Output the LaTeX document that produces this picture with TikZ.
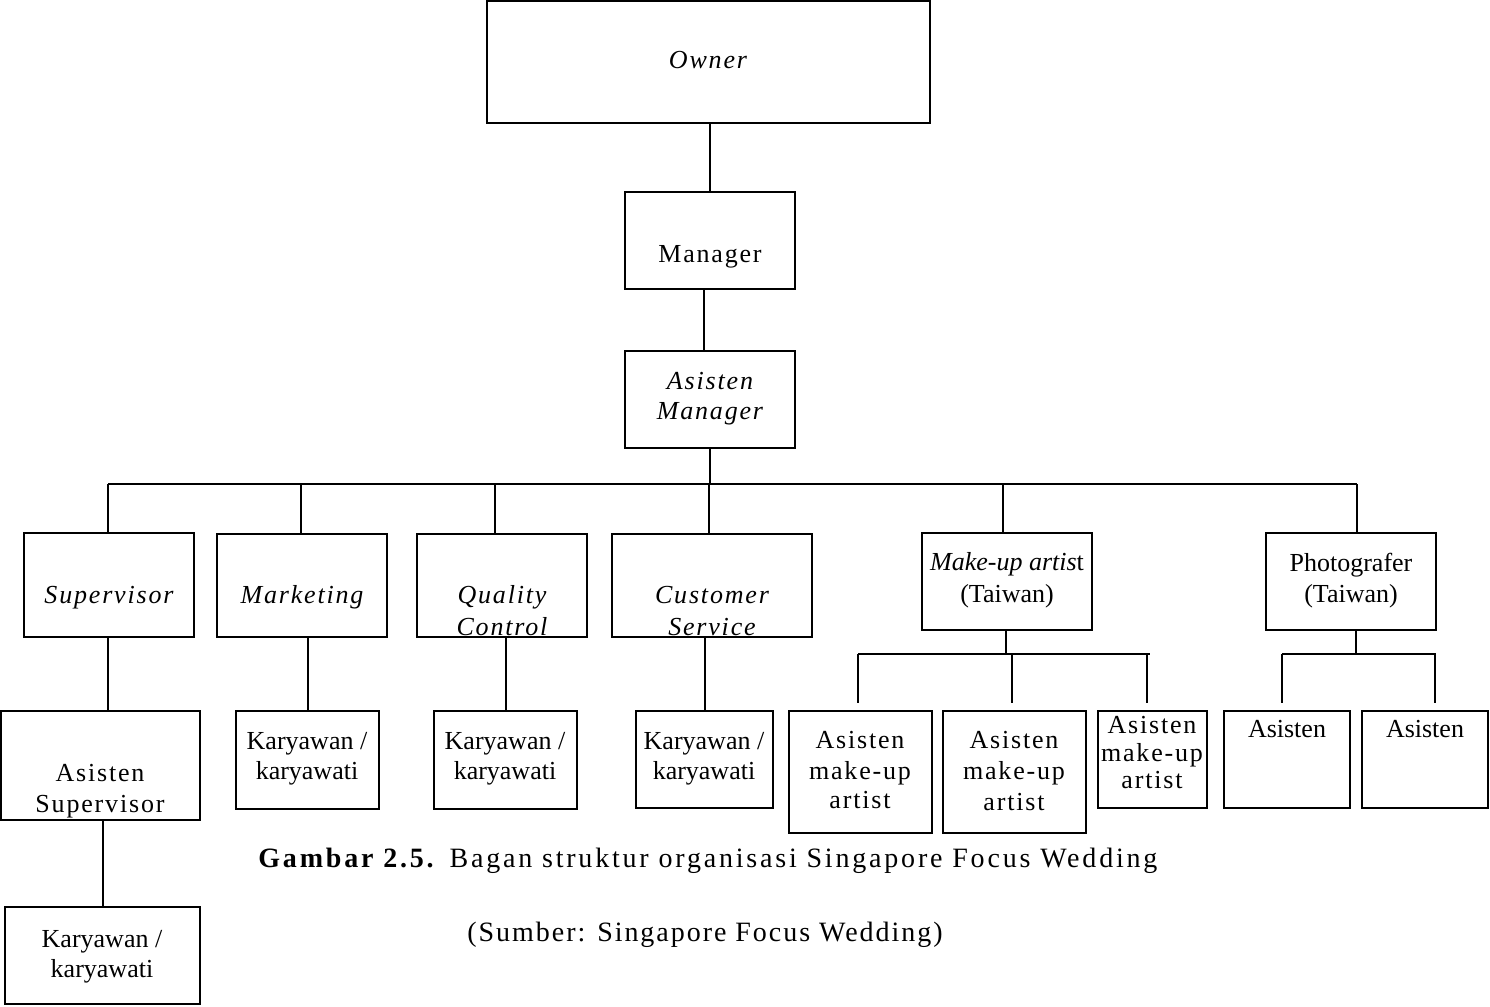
\documentclass[tikz,border=0pt]{standalone}
\usepackage{fontspec}
\setmainfont{Liberation Serif}
\newfontfamily\spc[LetterSpace=7]{Liberation Serif}
\newfontfamily\capa[LetterSpace=10]{Liberation Serif}
\newfontfamily\capb[LetterSpace=7]{Liberation Serif}
\newcommand\bx[5]{\node[boxst, minimum width={(#4-#2)*0.5pt}, minimum height={(#5-#3)*0.5pt}] (#1) at ({(#2+#4)/2},{(#3+#5)/2}) {};}
\begin{document}
\begin{tikzpicture}[x=0.5pt,y=-0.5pt,
  boxst/.style={draw, line width=1pt, inner sep=0pt, outer sep=0pt},
  ln/.style={line width=1pt},
  tx/.style={inner sep=0pt, anchor=base, font=\fontsize{13}{15}\selectfont},
  sp/.style={tx, font=\fontsize{13}{15}\spc},
  spi/.style={tx, font=\fontsize{13}{15}\spc\itshape}]
\useasboundingbox (0,0) rectangle (1490,1007);
% boxes
\bx{owner}{487}{1}{930}{123}
\bx{mgr}{625}{192}{795}{289}
\bx{am}{625}{351}{795}{448}
\bx{sup}{24}{533}{194}{637}
\bx{mkt}{217}{534}{387}{637}
\bx{qc}{417}{534}{587}{637}
\bx{cs}{612}{534}{812}{637}
\bx{mua}{922}{533}{1092}{630}
\bx{pho}{1266}{533}{1436}{630}
\bx{asup}{1}{711}{200}{820}
\bx{ka}{5}{907}{200}{1004}
\bx{kb}{236}{711}{379}{809}
\bx{kc}{434}{711}{577}{809}
\bx{kd}{636}{711}{773}{808}
\bx{ma}{789}{711}{932}{833}
\bx{mb}{943}{711}{1086}{833}
\bx{mc}{1098}{711}{1207}{808}
\bx{pa}{1224}{711}{1350}{808}
\bx{pb}{1362}{711}{1488}{808}
% texts
\node[spi] (t-owner) at (708,68) {Owner};
\node[sp] (t-mgr) at (710,262) {Manager};
\node[spi] (t-am1) at (710,389) {Asisten};
\node[spi] (t-am2) at (710,419) {Manager};
\node[spi] (t-sup) at (109,603) {Supervisor};
\node[spi] (t-mkt) at (302,603) {Marketing};
\node[spi] (t-qc1) at (502,603) {Quality};
\node[spi] (t-qc2) at (502,635) {Control};
\node[spi] (t-cs1) at (712,603) {Customer};
\node[spi] (t-cs2) at (712,635) {Service};
\node[tx] (t-mua1) at (1007,570) {\textit{Make-up artis}t};
\node[tx] (t-mua2) at (1007,602) {(Taiwan)};
\node[tx] (t-pho1) at (1351,571) {Photografer};
\node[tx] (t-pho2) at (1351,602) {(Taiwan)};
\node[sp] (t-asup1) at (100,781) {Asisten};
\node[sp] (t-asup2) at (100,812) {Supervisor};
\node[tx] (t-ka1) at (102,947) {Karyawan /};
\node[tx] (t-ka2) at (102,977) {karyawati};
\node[tx] (t-kb1) at (307,749) {Karyawan /};
\node[tx] (t-kb2) at (307,779) {karyawati};
\node[tx] (t-kc1) at (505,749) {Karyawan /};
\node[tx] (t-kc2) at (505,779) {karyawati};
\node[tx] (t-kd1) at (704,749) {Karyawan /};
\node[tx] (t-kd2) at (704,779) {karyawati};
\node[sp] (t-ma1) at (860,748) {Asisten};
\node[sp] (t-ma2) at (860,779) {make-up};
\node[sp] (t-ma3) at (860,808) {artist};
\node[sp] (t-mb1) at (1014,748) {Asisten};
\node[sp] (t-mb2) at (1014,779) {make-up};
\node[sp] (t-mb3) at (1014,810) {artist};
\node[sp] (t-mc1) at (1152,733) {Asisten};
\node[sp] (t-mc2) at (1152,761) {make-up};
\node[sp] (t-mc3) at (1152,788) {artist};
\node[tx] (t-pa) at (1287,737) {Asisten};
\node[tx] (t-pb) at (1425,737) {Asisten};
\node[tx, anchor=base west, font=\fontsize{14}{16}\capa] (cap1) at (258,867) {\textbf{Gambar 2.5.} Bagan struktur organisasi Singapore Focus Wedding};
\node[tx, anchor=base west, font=\fontsize{14}{16}\capb] (cap2) at (467,941) {(Sumber: Singapore Focus Wedding)};
% connectors
\coordinate (bus) at (710,484);
\coordinate (busm) at (1006,654);
\coordinate (busp) at (1356,654);
\draw[ln] (mgr.north) -- (mgr.north |- owner.south);
\draw[ln] ([xshift=-3pt]mgr.south) -- ([xshift=-3pt]am.north);
\draw[ln] (am.south) -- (bus);
\draw[ln] ([xshift=-0.5pt]sup.north |- bus) -- ([xshift=3pt]pho.north |- bus);
\draw[ln] ([xshift=-0.5pt]sup.north) -- ([xshift=-0.5pt]sup.north |- bus);
\draw[ln] ([xshift=-0.5pt]mkt.north) -- ([xshift=-0.5pt]mkt.north |- bus);
\draw[ln] ([xshift=-3.5pt]qc.north) -- ([xshift=-3.5pt]qc.north |- bus);
\draw[ln] ([xshift=-1.5pt]cs.north) -- ([xshift=-1.5pt]cs.north |- bus);
\draw[ln] ([xshift=-2pt]mua.north) -- ([xshift=-2pt]mua.north |- bus);
\draw[ln] ([xshift=3pt]pho.north) -- ([xshift=3pt]pho.north |- bus);
\draw[ln] ([xshift=-0.5pt]sup.south) -- ([xshift=-0.5pt]sup.south |- asup.north);
\draw[ln] (ka.north) -- (ka.north |- asup.south);
\draw[ln] (kb.north) -- (kb.north |- mkt.south);
\draw[ln] (kc.north) -- (kc.north |- qc.south);
\draw[ln] (kd.north) -- (kd.north |- cs.south);
% make-up artist sub-tree
\draw[ln] (mua.south -| busm) -- (busm);
\draw[ln] ([xshift=-1.25pt]ma.north |- busm) -- ([xshift=-1.25pt]mc.north |- busm);
\draw[ln] ([xshift=-1.25pt]ma.north |- busm) -- ([xshift=-1.25pt,yshift=4pt]ma.north);
\draw[ln] ([xshift=-1.25pt]mb.north |- busm) -- ([xshift=-1.25pt,yshift=4pt]mb.north);
\draw[ln] ([xshift=-2.75pt]mc.north |- busm) -- ([xshift=-2.75pt,yshift=4pt]mc.north);
% photografer sub-tree
\draw[ln] (pho.south -| busp) -- (busp);
\draw[ln] ([xshift=-2.5pt]pa.north |- busp) -- ([xshift=5.5pt]pb.north |- busp);
\draw[ln] ([xshift=-2.5pt]pa.north |- busp) -- ([xshift=-2.5pt,yshift=4pt]pa.north);
\draw[ln] ([xshift=5pt]pb.north |- busp) -- ([xshift=5pt,yshift=4pt]pb.north);
\end{tikzpicture}
\end{document}
